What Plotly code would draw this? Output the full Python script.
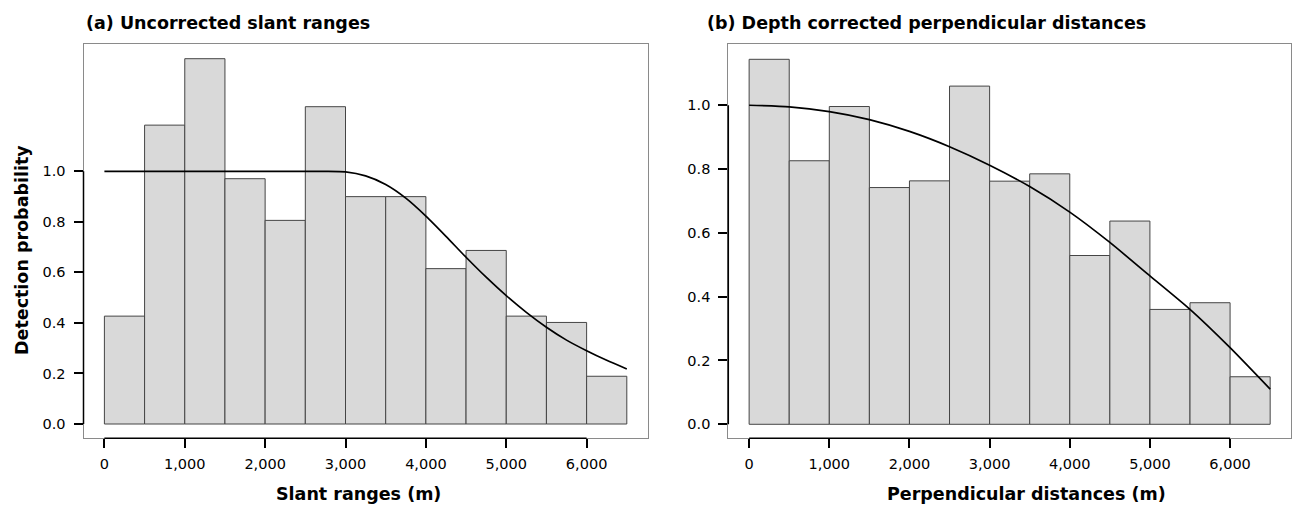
import plotly.graph_objects as go

# ---------------- data ----------------
bin_left = [0, 500, 1000, 1500, 2000, 2500, 3000, 3500, 4000, 4500, 5000, 5500, 6000]
bin_width = 500

slant_hist = [0.427, 1.183, 1.446, 0.971, 0.806, 1.256, 0.900, 0.900, 0.615, 0.687, 0.427, 0.402, 0.189]
perp_hist = [1.144, 0.826, 0.996, 0.742, 0.763, 1.060, 0.762, 0.785, 0.529, 0.637, 0.360, 0.381, 0.149]

slant_curve_x = [0, 250, 500, 750, 1000, 1250, 1500, 1750, 2000, 2250, 2500, 2750, 3000,
                 3250, 3500, 3750, 4000, 4250, 4500, 4750, 5000, 5250, 5500, 5750, 6000, 6250, 6500]
slant_curve_y = [1.0, 1.0, 1.0, 1.0, 1.0, 1.0, 1.0, 1.0, 1.0, 1.0, 1.0, 1.0, 0.998,
                 0.982, 0.948, 0.894, 0.823, 0.743, 0.660, 0.581, 0.508, 0.442, 0.383, 0.332, 0.290, 0.252, 0.218]

perp_curve_x = [0, 500, 1000, 1500, 2000, 2500, 3000, 3500, 4000, 4500, 5000, 5500, 6000, 6500]
perp_curve_y = [1.000, 0.995, 0.980, 0.955, 0.918, 0.870, 0.812, 0.745, 0.665, 0.570, 0.465, 0.360, 0.240, 0.110]

x_ticks = [0, 1000, 2000, 3000, 4000, 5000, 6000]
y_ticks = [0.0, 0.2, 0.4, 0.6, 0.8, 1.0]

panel_titles = ["(a) Uncorrected slant ranges", "(b) Depth corrected perpendicular distances"]
x_titles = ["Slant ranges (m)", "Perpendicular distances (m)"]
y_title = "Detection probability"

# ---------------- layout constants ----------------
W, H = 1298, 508
FONT = "DejaVu Sans"
BAR_FILL = "#d9d9d9"
BAR_LINE = "#454545"
BOX = "#8a8a8a"


def px_x(p):
    return p / W


def px_y(p):
    return (H - p) / H


fig = go.Figure()

panels = [
    dict(hist=slant_hist, cx=slant_curve_x, cy=slant_curve_y, xa="x", ya="y",
         dom=[px_x(83.5), px_x(647.7)], yr=[-0.0566, 1.503]),
    dict(hist=perp_hist, cx=perp_curve_x, cy=perp_curve_y, xa="x2", ya="y2",
         dom=[px_x(728.3), px_x(1291)], yr=[-0.0439, 1.191]),
]

for p in panels:
    fig.add_trace(go.Bar(
        x=bin_left, y=p["hist"], width=bin_width, offset=0,
        marker=dict(color=BAR_FILL, line=dict(color=BAR_LINE, width=1)),
        xaxis=p["xa"], yaxis=p["ya"], showlegend=False, hoverinfo="skip",
    ))
    fig.add_trace(go.Scatter(
        x=p["cx"], y=p["cy"], mode="lines",
        line=dict(color="black", width=1.7, shape="spline", smoothing=0.6),
        xaxis=p["xa"], yaxis=p["ya"], showlegend=False,
    ))

axis_common = dict(
    showgrid=False, zeroline=False, showline=True, linecolor=BOX, linewidth=1,
    mirror=True, ticks="outside", ticklen=9, tickwidth=1.5, tickcolor="black",
    tickfont=dict(family=FONT, size=14.5, color="black"),
)

y_dom = [px_y(438.3), px_y(44.3)]
for i, p in enumerate(panels):
    sfx = "" if i == 0 else str(i + 1)
    fig.update_layout(**{
        "xaxis" + sfx: dict(axis_common, domain=p["dom"], range=[-260, 6760],
                            tickvals=x_ticks, tickformat=",d", anchor="y" + sfx,
                            ticklabelstandoff=3),
        "yaxis" + sfx: dict(axis_common, domain=y_dom, range=p["yr"],
                            tickvals=y_ticks, tickformat=".1f", anchor="x" + sfx,
                            ticklabelstandoff=5),
    })
    # black axis lines spanning the tick range (R style)
    fig.add_shape(type="line", xref=p["xa"] + " domain", yref=p["ya"],
                  x0=0, x1=0, y0=y_ticks[0], y1=y_ticks[-1],
                  line=dict(color="black", width=1.5), layer="above")
    fig.add_shape(type="line", xref=p["xa"], yref=p["ya"] + " domain",
                  x0=x_ticks[0], x1=x_ticks[-1], y0=0, y1=0,
                  line=dict(color="black", width=1.5), layer="above")

annotations = [
    dict(text="<b>" + panel_titles[0] + "</b>", x=px_x(84), y=px_y(22.5),
         xanchor="left", yanchor="middle", font=dict(size=17.5)),
    dict(text="<b>" + panel_titles[1] + "</b>", x=px_x(705), y=px_y(22.5),
         xanchor="left", yanchor="middle", font=dict(size=17.5)),
    dict(text="<b>" + x_titles[0] + "</b>", x=px_x(358), y=px_y(494),
         xanchor="center", yanchor="middle", font=dict(size=17.5)),
    dict(text="<b>" + x_titles[1] + "</b>", x=px_x(1026), y=px_y(494),
         xanchor="center", yanchor="middle", font=dict(size=17.5)),
    dict(text="<b>" + y_title + "</b>", x=px_x(22), y=px_y(250), textangle=-90,
         xanchor="center", yanchor="middle", font=dict(size=17.5)),
]
for a in annotations:
    a.update(xref="paper", yref="paper", showarrow=False)
    a["font"].update(family=FONT, color="black")

fig.update_layout(
    width=W, height=H, margin=dict(l=0, r=0, t=0, b=0),
    paper_bgcolor="white", plot_bgcolor="white",
    font=dict(family=FONT, color="black"),
    annotations=annotations, barmode="overlay",
)

fig.write_html("out.html", config={"displayModeBar": False},
               post_script="document.body.style.margin='0';")
